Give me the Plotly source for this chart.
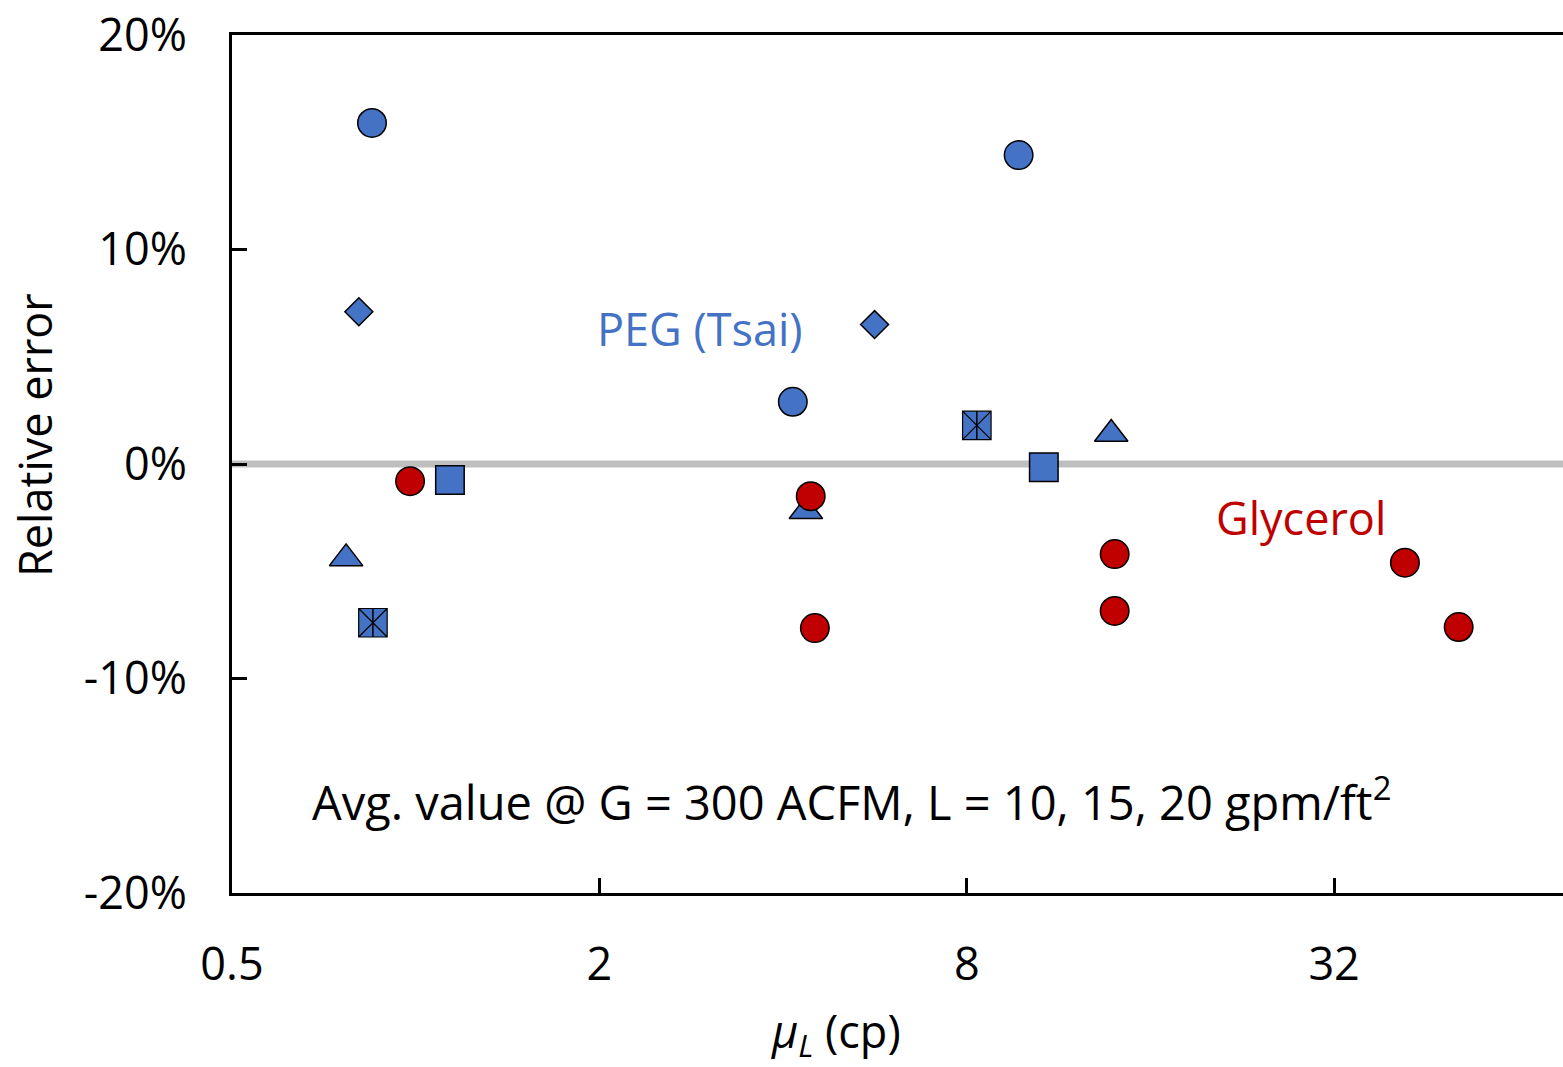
import numpy as np
import plotly.graph_objects as go

# ---- data ----
peg_circle_x = [0.848, 4.15, 9.73]
peg_circle_y = [15.9, 2.9, 14.4]
peg_diamond_x = [0.807, 5.65]
peg_diamond_y = [7.1, 6.5]
peg_square_x = [1.138, 10.7]
peg_square_y = [-0.75, -0.15]
peg_triangle_x = [0.769, 4.36, 13.8]
peg_triangle_y = [-4.4, -2.2, 1.4]
peg_star_x = [0.851, 8.31]
peg_star_y = [-7.4, 1.8]

gly_x = [0.979, 4.44, 4.51, 13.98, 13.98, 41.8, 51.2]
gly_y = [-0.8, -1.5, -7.65, -4.2, -6.85, -4.6, -7.6]

x_tick_vals = [0.5, 2, 8, 32]
x_tick_text = ["0.5", "2", "8", "32"]
y_tick_vals = [-20, -10, 0, 10, 20]
y_tick_text = ["-20%", "-10%", "0%", "10%", "20%"]

BLUE = "#4472C4"
RED = "#C00000"
FONT = "Open Sans"

edge = dict(color="black", width=1.5)

fig = go.Figure()

def add(x, y, symbol, size, color, line=edge):
    fig.add_trace(go.Scatter(x=x, y=y, mode="markers",
                             marker=dict(symbol=symbol, size=size, color=color, line=line),
                             showlegend=False, hoverinfo="skip"))

add(peg_circle_x, peg_circle_y, "circle", 28.5, BLUE)
add(peg_diamond_x, peg_diamond_y, "diamond", 21.5, BLUE)
add(peg_square_x, peg_square_y, "square", 28.5, BLUE)
add(peg_triangle_x, peg_triangle_y, "triangle-up", 29, BLUE)
add(peg_star_x, peg_star_y, "square-x", 28.5, BLUE, line=dict(color="black", width=1.2))
add(peg_star_x, peg_star_y, "line-ns-open", 20.5, "black", line=dict(color="black", width=1.5))
add(gly_x, gly_y, "circle", 28.5, RED)

# zero reference line
fig.add_shape(type="line", xref="paper", x0=0, x1=1, yref="y", y0=0, y1=0,
              line=dict(color="#BFBFBF", width=7), layer="below")

axis_font = dict(family=FONT, size=45, color="black")

fig.update_xaxes(type="log", range=[np.log10(0.5), np.log10(75.9)],
                 tickvals=x_tick_vals, ticktext=x_tick_text,
                 ticks="inside", ticklen=15, tickwidth=3, tickcolor="black",
                 showline=True, linewidth=3, linecolor="black", mirror=True,
                 showgrid=False, zeroline=False, tickfont=axis_font,
                 ticklabelstandoff=30)
fig.update_yaxes(range=[-20, 20], tickvals=y_tick_vals, ticktext=y_tick_text,
                 ticks="inside", ticklen=15, tickwidth=3, tickcolor="black",
                 showline=True, linewidth=3, linecolor="black",
                 showgrid=False, zeroline=False, tickfont=axis_font,
                 ticklabelstandoff=33)

ann_font = dict(family=FONT, size=45, color="black")
common = dict(xref="paper", yref="paper", showarrow=False,
              xanchor="center", yanchor="middle")
fig.add_annotation(text="PEG (Tsai)", x=0.3516, y=0.6585,
                   font=dict(family=FONT, size=45, color=BLUE), **common)
fig.add_annotation(text="Glycerol", x=0.8032, y=0.4382,
                   font=dict(family=FONT, size=45, color=RED), **common)
fig.add_annotation(text="Avg. value @ G = 300 ACFM, L = 10, 15, 20 gpm/ft<sup>2</sup>",
                   x=0.4658, y=0.1084,
                   font=dict(family=FONT, size=47, color="black"), **common)
fig.add_annotation(text="<i>μ</i><sub><i>L</i></sub> (cp)",
                   x=0.4538, y=-0.163, font=ann_font, **common)
fig.add_annotation(text="Relative error", x=-0.148, y=0.5338, textangle=-90,
                   font=ann_font, **common)

fig.update_layout(width=1563, height=1067,
                  margin=dict(l=232, r=0, t=35, b=174),
                  plot_bgcolor="white", paper_bgcolor="white",
                  font=dict(family=FONT))

fig.write_html("out.html", config={"displayModeBar": False})
